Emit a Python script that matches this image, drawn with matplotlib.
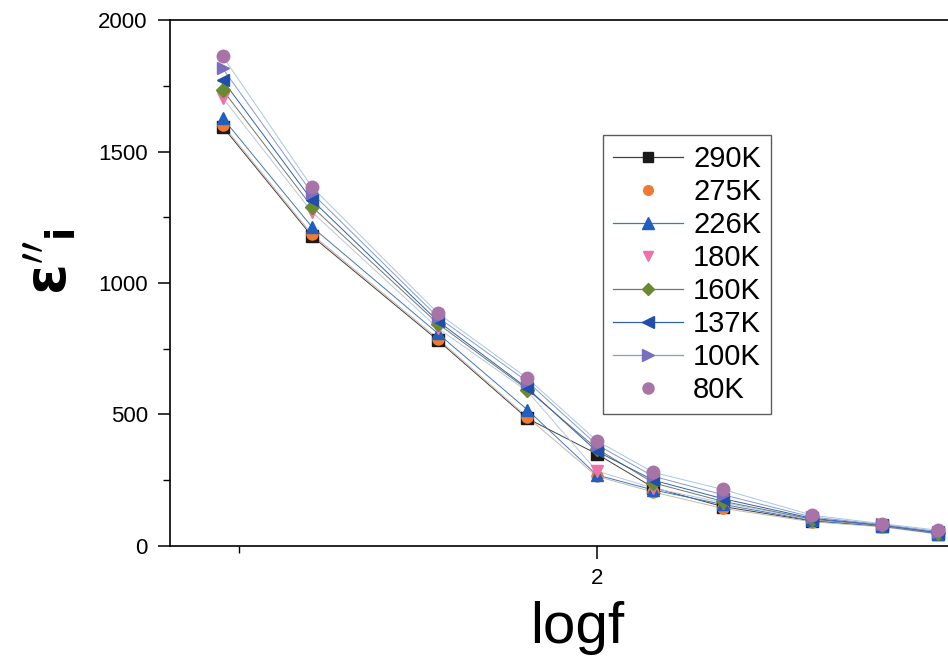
import matplotlib
matplotlib.use("Agg")
import matplotlib.pyplot as plt
from matplotlib.lines import Line2D
from matplotlib.ticker import MultipleLocator

plt.rcParams['font.family'] = ['Liberation Sans', 'DejaVu Sans']
plt.rcParams['mathtext.fontset'] = 'dejavusans'

# log of frequency (30, 40, 60, 80, 100, 120, 150, 200, 250, 300 Hz)
logf = [1.477, 1.602, 1.778, 1.903, 2.000, 2.079, 2.176, 2.301, 2.398, 2.477]

eps_290 = [1595, 1178, 782, 485, 350, 222, 150, 95, 75, 47]
eps_275 = [1602, 1185, 788, 490, 265, 205, 143, 92, 73, 45]
eps_226 = [1628, 1213, 808, 518, 270, 213, 158, 97, 76, 47]
eps_180 = [1705, 1270, 828, 588, 285, 220, 165, 100, 78, 50]
eps_160 = [1735, 1290, 845, 595, 370, 240, 170, 102, 78, 50]
eps_137 = [1772, 1315, 855, 600, 360, 250, 180, 105, 80, 52]
eps_100 = [1817, 1342, 870, 625, 385, 265, 195, 110, 82, 55]
eps_80 = [1863, 1365, 885, 638, 400, 280, 215, 117, 85, 60]

labels = ['290K', '275K', '226K', '180K', '160K', '137K', '100K', '80K']
series = [eps_290, eps_275, eps_226, eps_180, eps_160, eps_137, eps_100, eps_80]
markers = ['s', 'o', '^', 'v', 'D', '<', '>', 'o']
mcolors = ['#1a1a1a', '#f07a30', '#1f5fc0', '#f070a8', '#6a8a30', '#1f4fa8', '#7a6ec0', '#a874a8']
lcolors = ['#404040', '#c8b8a8', '#4078c0', '#b8c8e0', '#707868', '#3060b0', '#8898d0', '#a8c8e0']
show_line = [True, False, True, False, True, True, True, False]
msizes = [8, 8, 9, 8, 7, 9, 9, 9]

fig = plt.figure(figsize=(9.48, 6.56), dpi=100)
ax = fig.add_axes([0.1793, 0.1677, 0.833, 0.8018])

for y, m, mc, lc, ms in zip(series, markers, mcolors, lcolors, msizes):
    ax.plot(logf, y, color=lc, lw=0.7, zorder=2)
    ax.plot(logf, y, linestyle='none', marker=m, color=mc, ms=ms, mec=mc, zorder=3)

handles = []
for lab, m, mc, lc, ms, sl in zip(labels, markers, mcolors, lcolors, msizes, show_line):
    handles.append(Line2D([], [], marker=m, color=lc if sl else 'none', lw=0.9,
                          mfc=mc, mec=mc, ms=ms - 1))

leg = ax.legend(handles, labels, loc='upper left', bbox_to_anchor=(0.548, 0.781),
                borderaxespad=0, fontsize=21, fancybox=False, frameon=True,
                edgecolor='#333333', handlelength=2.4, labelspacing=0.17,
                handletextpad=0.35, borderpad=0.35)
leg.get_frame().set_linewidth(1.0)

ax.set_xlim(1.4036, 2.507)
ax.set_ylim(0, 2000)
ax.xaxis.set_major_locator(MultipleLocator(1))
ax.xaxis.set_minor_locator(MultipleLocator(0.5))
ax.yaxis.set_major_locator(MultipleLocator(500))
ax.yaxis.set_minor_locator(MultipleLocator(250))
ax.tick_params(which='major', direction='out', length=9, width=1.1, labelsize=16)
ax.tick_params(which='minor', direction='out', length=5, width=1.0)
ax.tick_params(axis='x', pad=7)
ax.tick_params(axis='y', pad=7)
for s in ax.spines.values():
    s.set_linewidth(1.2)

ax.set_xlabel('logf', fontsize=42)
ax.xaxis.set_label_coords(0.516, -0.105)
ax.set_ylabel(r"$\mathbf{\varepsilon''_i}$", fontsize=40)
ax.yaxis.set_label_coords(-0.115, 0.54)

fig.savefig('out.png', dpi=100)
